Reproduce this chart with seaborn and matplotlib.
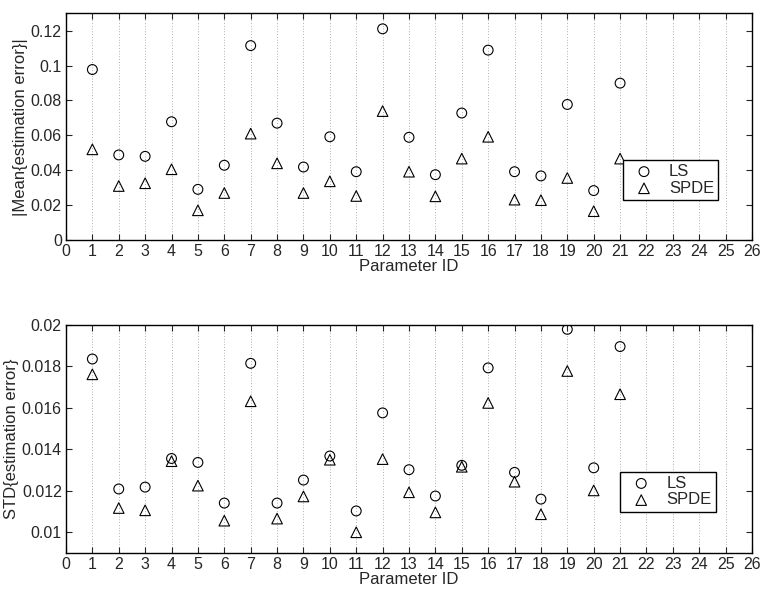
import numpy as np
import pandas as pd
import matplotlib
matplotlib.use("Agg")
import matplotlib.pyplot as plt
from matplotlib.ticker import FormatStrFormatter
import seaborn as sns

# parameter ids 1..21
param_id = list(range(1, 22))

mean_ls = [0.0977, 0.0488, 0.0480, 0.0678, 0.0291, 0.0429, 0.1114, 0.0670, 0.0419, 0.0592,
           0.0392, 0.1210, 0.0589, 0.0375, 0.0728, 0.1088, 0.0392, 0.0368, 0.0777, 0.0284, 0.0899]
mean_spde = [0.0520, 0.0310, 0.0326, 0.0406, 0.0171, 0.0270, 0.0610, 0.0440, 0.0270, 0.0337,
             0.0253, 0.0739, 0.0392, 0.0251, 0.0467, 0.0592, 0.0232, 0.0229, 0.0356, 0.0166, 0.0467]

std_ls = [0.01836, 0.01209, 0.01218, 0.01356, 0.01337, 0.01141, 0.01815, 0.01141, 0.01252, 0.01368,
          0.01103, 0.01576, 0.01302, 0.01175, 0.01323, 0.01793, 0.01289, 0.01160, 0.01979, 0.01311, 0.01896]
std_spde = [0.01762, 0.01117, 0.01106, 0.01343, 0.01225, 0.01056, 0.01632, 0.01066, 0.01173, 0.01350,
            0.01000, 0.01353, 0.01193, 0.01096, 0.01316, 0.01624, 0.01244, 0.01087, 0.01778, 0.01202, 0.01666]

x_ticks = list(range(0, 27))
mean_ticks = [0, 0.02, 0.04, 0.06, 0.08, 0.1, 0.12]
std_ticks = [0.01, 0.012, 0.014, 0.016, 0.018, 0.02]

sns.set_style("ticks")
plt.rcParams['font.family'] = ['Liberation Sans', 'DejaVu Sans']

fig = plt.figure(figsize=(7.61, 5.96), dpi=100)
ax1 = fig.add_axes([0.0867, 0.597, 0.9015, 0.381])
ax2 = fig.add_axes([0.0867, 0.0721, 0.9015, 0.3826])


def draw_panel(ax, ls_vals, spde_vals, ylim, yticks, ylabel, legend_box):
    sns.scatterplot(x=param_id, y=ls_vals, ax=ax, marker='o', s=50,
                    facecolors='none', edgecolors='k', linewidths=0.8, label='LS', zorder=3)
    sns.scatterplot(x=param_id, y=spde_vals, ax=ax, marker='^', s=58,
                    facecolors='none', edgecolors='k', linewidths=0.8, label='SPDE', zorder=3)
    ax.set_xlim(0, 26)
    ax.set_ylim(*ylim)
    ax.set_xticks(x_ticks)
    ax.set_yticks(yticks)
    ax.yaxis.set_major_formatter(FormatStrFormatter('%g'))
    ax.xaxis.grid(True, linestyle=(0, (1, 3)), color='k', linewidth=0.5, alpha=0.6)
    ax.yaxis.grid(False)
    ax.tick_params(direction='in', top=True, right=True, length=4, width=0.8,
                   labelsize=11.5, pad=3)
    for sp in ax.spines.values():
        sp.set_visible(True)
        sp.set_linewidth(1.0)
        sp.set_color('k')
    ax.set_xlabel('Parameter ID', fontsize=12, labelpad=0)
    ax.set_ylabel(ylabel, fontsize=12, labelpad=2)
    leg = ax.legend(loc='lower left', bbox_to_anchor=legend_box, fancybox=False,
                    framealpha=1, edgecolor='k', fontsize=12, handletextpad=0.5,
                    borderpad=0.25, labelspacing=0.1, handlelength=2.0)
    leg.get_frame().set_linewidth(1.0)


draw_panel(ax1, mean_ls, mean_spde, (0, 0.13), mean_ticks,
           '|Mean{estimation error}|', (0.80, 0.141))
draw_panel(ax2, std_ls, std_spde, (0.009, 0.02), std_ticks,
           'STD{estimation error}', (0.796, 0.145))

fig.savefig('out.png', dpi=100)
